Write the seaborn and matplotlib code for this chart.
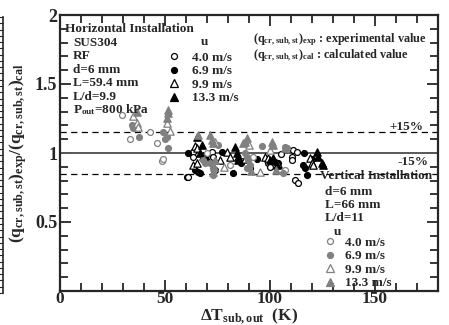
import numpy as np
import pandas as pd
import matplotlib
matplotlib.use("Agg")
import matplotlib.pyplot as plt
from matplotlib.lines import Line2D
import seaborn as sns

# =====================================================
# DATA
# =====================================================

# Horizontal installation, black markers
h40_x = [60.5, 61, 63.3, 63.3, 72.4, 72.9, 90.5, 99, 100, 110.5, 110.5, 111, 112.9, 111.9, 113.3, 74, 86, 105]
h40_y = [0.826, 0.826, 1.007, 0.971, 1.007, 0.97, 0.89, 0.928, 0.899, 0.97, 0.95, 1.02, 1.007, 0.804, 0.783, 0.88, 0.94, 0.99]

h69_x = [61, 64.3, 65.7, 66.7, 77.1, 82.4, 93.8, 102.4, 103.8, 115.7, 116.7, 117.6, 116, 120, 70, 86]
h69_y = [1.0, 0.877, 0.862, 0.855, 1.007, 0.855, 0.957, 0.935, 0.928, 0.913, 0.89, 0.84, 1.0, 0.96, 0.99, 0.93]

h99_x = [64.3, 65.2, 63.3, 65.2, 79.5, 81, 97.6, 99, 119, 120, 120.5, 68, 88, 104, 76]
h99_y = [1.05, 1.036, 0.913, 0.928, 1.007, 0.97, 0.97, 0.964, 0.964, 0.928, 0.913, 0.98, 0.96, 0.92, 0.95]

h133_x = [65.2, 67.6, 66.7, 83.3, 84.3, 84.8, 84.8, 101.4, 103.3, 122.4, 122.9, 124.8, 125.2, 70, 100]
h133_y = [1.116, 1.058, 1.0, 1.04, 1.0, 0.97, 0.95, 0.964, 0.913, 1.007, 0.97, 0.928, 0.913, 0.96, 0.95]

# Vertical installation, gray markers
v40_x = [29.5, 33.3, 42.9, 46.2, 48.6, 49, 81, 70, 92, 107]
v40_y = [1.275, 1.10, 1.152, 1.072, 0.942, 0.957, 0.913, 1.0, 0.97, 0.88]

v69_x = [34.3, 34.8, 37.6, 49, 51, 50, 51.4, 68.1, 69, 71.4, 72.9, 72.9, 88.1, 89, 89.5, 90.5, 89,
         106.2, 107, 108, 75, 96]
v69_y = [1.203, 1.181, 1.116, 1.152, 1.116, 1.101, 1.036, 0.95, 0.93, 0.93, 0.89, 0.84, 1.0, 0.97, 0.95,
         0.913, 0.89, 0.855, 1.04, 1.036, 1.06, 1.05]

v99_x = [34.8, 36.7, 37.1, 51, 52.4, 74, 90, 100, 78, 95]
v99_y = [1.268, 1.217, 1.188, 1.217, 1.16, 1.08, 1.06, 1.02, 0.9, 0.86]

v133_x = [36.7, 51.4, 51.4, 51, 65.7, 71.4, 72.4, 72.9, 72.9, 73.5, 89, 88.1, 87.1, 101, 101.4, 107.1,
          74, 91, 103]
v133_y = [1.297, 1.31, 1.29, 1.254, 1.13, 1.13, 1.094, 1.072, 0.862, 0.9, 1.109, 1.08, 1.072, 1.08,
          1.058, 1.036, 0.95, 0.87, 0.88]

speed_labels = ["4.0 m/s", "6.9 m/s", "9.9 m/s", "13.3 m/s"]

horiz_info = ["SUS304", "RF", "d=6 mm", "L=59.4 mm", "L/d=9.9", r"P$_{out}$=800 kPa"]
vert_info = ["d=6 mm", "L=66 mm", "L/d=11"]

# =====================================================
# STYLE
# =====================================================

sns.set_style("ticks")
plt.rcParams["font.family"] = ["Liberation Serif", "DejaVu Serif"]
plt.rcParams["font.weight"] = "bold"
plt.rcParams["axes.labelweight"] = "bold"
plt.rcParams["mathtext.fontset"] = "custom"
plt.rcParams["mathtext.rm"] = "Liberation Serif:bold"
plt.rcParams["mathtext.it"] = "Liberation Serif:bold"
plt.rcParams["mathtext.bf"] = "Liberation Serif:bold"

GRAY = "0.5"
FS = 9.5

fig = plt.figure(figsize=(4.49, 3.25), dpi=100)
ax = fig.add_axes([60 / 449, 1 - 291 / 325, 378 / 449, 276 / 325])

# (series x, y, marker, face, edge, size)
series = [
    (h40_x, h40_y, "o", "white", "black", 18),
    (h69_x, h69_y, "o", "black", "black", 18),
    (h99_x, h99_y, "^", "white", "black", 28),
    (h133_x, h133_y, "^", "black", "black", 28),
    (v40_x, v40_y, "o", "white", GRAY, 18),
    (v69_x, v69_y, "o", GRAY, GRAY, 18),
    (v99_x, v99_y, "^", "white", GRAY, 28),
    (v133_x, v133_y, "^", GRAY, GRAY, 28),
]

for xs, ys, mk, fc, ec, sz in series:
    df = pd.DataFrame({"dT": xs, "ratio": ys})
    sns.scatterplot(data=df, x="dT", y="ratio", ax=ax, marker=mk, s=sz,
                    color=fc, edgecolor=ec, linewidth=0.9, zorder=3)

# reference lines
ax.axhline(1.0, color="0.35", lw=1.4, zorder=2)
ax.axhline(1.15, color="black", lw=0.9, ls=(0, (5, 3.5)), zorder=2)
ax.axhline(0.85, color="black", lw=0.9, ls=(0, (5, 3.5)), zorder=2)

# =====================================================
# AXES
# =====================================================

ax.set_xlim(0, 180)
ax.set_ylim(0, 2)
ax.set_xticks([0, 50, 100, 150])
ax.set_xticks(np.arange(0, 181, 10), minor=True)
ax.set_yticks([0.5, 1, 1.5, 2])
ax.set_yticklabels(["0.5", "1", "1.5", "2"])
ax.set_yticks(np.arange(0, 2.01, 0.1), minor=True)

ax.tick_params(which="both", direction="in", top=True, right=True, width=1.3,
               labelsize=13)
ax.tick_params(which="major", length=8)
ax.tick_params(which="minor", length=6)
ax.tick_params(axis="x", pad=0, labelsize=12.5)
ax.tick_params(axis="y", pad=2)
for sp in ax.spines.values():
    sp.set_linewidth(1.6)
    sp.set_visible(True)

ax.set_xlabel(r"$\Delta$T$_{sub,out}$  (K)", fontsize=12.5, fontweight="bold", labelpad=-0.5)
ax.set_ylabel(r"$(q_{cr,sub,st})_{exp}/(q_{cr,sub,st})_{cal}$", fontsize=12.5,
              fontweight="bold", labelpad=4)

# =====================================================
# ANNOTATIONS
# =====================================================

ax.text(2.4, 1.899, "Horizontal Installation", fontsize=FS, va="center", ha="left")
for i, line in enumerate(horiz_info):
    ax.text(6.2, 1.797 - i * 0.097, line, fontsize=FS, va="center", ha="left")
ax.text(69, 1.804, "u", fontsize=FS, va="center", ha="center")

ax.text(91.9, 1.824, r"$(q_{cr,sub,st})_{exp}$ : experimental value", fontsize=8.8,
        va="center", ha="left")
ax.text(91.9, 1.708, r"$(q_{cr,sub,st})_{cal}$ : calculated value", fontsize=8.8,
        va="center", ha="left")

ax.text(157, 1.185, "+15%", fontsize=FS, va="center", ha="left")
ax.text(160.5, 0.932, "-15%", fontsize=FS, va="center", ha="left")

ax.text(124, 0.832, "Vertical Installation", fontsize=FS, va="center", ha="left")
for i, line in enumerate(vert_info):
    ax.text(126, 0.72 - i * 0.097, line, fontsize=FS, va="center", ha="left")
ax.text(132.4, 0.427, "u", fontsize=FS, va="center", ha="center")

# legends
h_handles = [Line2D([], [], ls="none", marker=mk, markersize=ms, mfc=fc, mec=ec, mew=0.9)
             for mk, fc, ec, ms in [("o", "white", "black", 4.3), ("o", "black", "black", 4.3),
                                    ("^", "white", "black", 5.2), ("^", "black", "black", 5.2)]]
v_handles = [Line2D([], [], ls="none", marker=mk, markersize=ms, mfc=fc, mec=ec, mew=0.9)
             for mk, fc, ec, ms in [("o", "white", GRAY, 4.3), ("o", GRAY, GRAY, 4.3),
                                    ("^", "white", GRAY, 5.2), ("^", GRAY, GRAY, 5.2)]]

leg1 = ax.legend(h_handles, speed_labels, loc="upper left", bbox_to_anchor=(0.284, 0.868),
                 frameon=False, fontsize=FS, handlelength=1.0, handletextpad=0.9,
                 borderpad=0, borderaxespad=0, labelspacing=0.1)
ax.add_artist(leg1)
ax.legend(v_handles, speed_labels, loc="upper left", bbox_to_anchor=(0.697, 0.198),
          frameon=False, fontsize=FS, handlelength=1.0, handletextpad=0.65,
          borderpad=0, borderaxespad=0, labelspacing=0.1)

# edge of the neighbouring panel at the far left
ax0 = fig.add_axes([3 / 449, 1 - 293 / 325, 0.01, 276 / 325])
for name, sp in ax0.spines.items():
    sp.set_visible(name == "left")
ax0.spines["left"].set_linewidth(1.2)
ax0.set_ylim(0, 44)
ax0.set_yticks(np.arange(0, 45))
ax0.set_yticklabels([])
ax0.set_xticks([])
ax0.tick_params(axis="y", direction="out", length=3, width=0.8)
ax0.patch.set_visible(False)

fig.savefig("out.png", dpi=100)
